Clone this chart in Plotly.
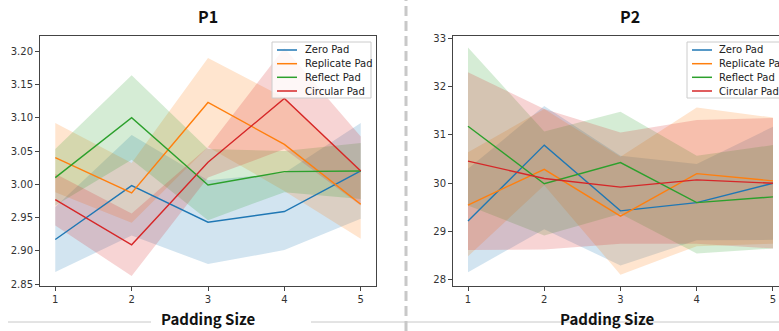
import plotly.graph_objects as go

x_vals = [1, 2, 3, 4, 5]
series_names = ["Zero Pad", "Replicate Pad", "Reflect Pad", "Circular Pad"]
colors = ["#1f77b4", "#ff7f0e", "#2ca02c", "#d62728"]
fills = ["rgba(31,119,180,0.2)", "rgba(255,127,14,0.2)", "rgba(44,160,44,0.2)", "rgba(214,39,40,0.2)"]

# P1
p1_mean = [
    [2.917, 2.998, 2.943, 2.959, 3.020],
    [3.040, 2.987, 3.123, 3.060, 2.970],
    [3.010, 3.100, 2.999, 3.019, 3.020],
    [2.977, 2.909, 3.033, 3.129, 3.020],
]
p1_upper = [
    [2.966, 3.074, 3.006, 3.017, 3.092],
    [3.092, 3.032, 3.190, 3.130, 3.022],
    [3.053, 3.164, 3.053, 3.050, 3.062],
    [3.016, 2.956, 3.056, 3.205, 3.072],
]
p1_lower = [
    [2.868, 2.923, 2.880, 2.901, 2.948],
    [2.988, 2.942, 3.056, 2.990, 2.918],
    [2.968, 3.037, 2.946, 2.988, 2.978],
    [2.938, 2.862, 3.010, 3.053, 2.968],
]

# P2
p2_mean = [
    [29.22, 30.79, 29.43, 29.60, 30.00],
    [29.55, 30.29, 29.32, 30.20, 30.05],
    [31.18, 29.99, 30.43, 29.60, 29.72],
    [30.46, 30.10, 29.92, 30.07, 30.00],
]
p2_upper = [
    [30.30, 31.60, 30.57, 30.40, 31.17],
    [30.64, 31.54, 30.55, 31.57, 31.36],
    [32.81, 31.07, 31.48, 30.57, 30.79],
    [32.30, 31.54, 31.05, 31.31, 31.35],
]
p2_lower = [
    [28.16, 29.05, 28.30, 28.82, 28.83],
    [28.49, 29.96, 28.11, 28.70, 28.75],
    [29.54, 28.92, 29.37, 28.55, 28.65],
    [28.62, 28.63, 28.75, 28.75, 28.65],
]

p1_ticks = [2.85, 2.90, 2.95, 3.00, 3.05, 3.10, 3.15, 3.20]
p2_ticks = [28, 29, 30, 31, 32, 33]

W, H = 779, 331
def px(x):
    return x / W
def py(y):
    return 1 - y / H

fig = go.Figure()

def add_panel(means, uppers, lowers, xa, ya):
    for i in range(4):
        fig.add_trace(go.Scatter(x=x_vals, y=uppers[i], mode="lines",
                                 line=dict(width=0, color=colors[i]),
                                 xaxis=xa, yaxis=ya, showlegend=False, hoverinfo="skip"))
        fig.add_trace(go.Scatter(x=x_vals, y=lowers[i], mode="lines",
                                 line=dict(width=0, color=colors[i]),
                                 fill="tonexty", fillcolor=fills[i],
                                 xaxis=xa, yaxis=ya, showlegend=False, hoverinfo="skip"))
    for i in range(4):
        fig.add_trace(go.Scatter(x=x_vals, y=means[i], mode="lines", name=series_names[i],
                                 line=dict(color=colors[i], width=1.4),
                                 xaxis=xa, yaxis=ya, showlegend=False, hoverinfo="skip"))

add_panel(p1_mean, p1_upper, p1_lower, "x", "y")
add_panel(p2_mean, p2_upper, p2_lower, "x2", "y2")

ydom = [py(286), py(36)]
axis_common = dict(showgrid=False, zeroline=False, showline=True, linecolor="#444",
                   linewidth=1, ticks="outside", ticklen=4, tickcolor="#444", automargin=False,
                   tickfont=dict(family="DejaVu Sans", size=10, color="#333"))

fig.update_layout(
    width=W, height=H, margin=dict(l=0, r=0, t=0, b=0, pad=0, autoexpand=False),
    paper_bgcolor="white", plot_bgcolor="white", showlegend=False,
    xaxis=dict(domain=[px(40), px(376)], range=[0.8, 5.2], tickvals=x_vals,
               ticktext=[str(v) for v in x_vals], mirror=True, anchor="y", **axis_common),
    yaxis=dict(domain=ydom, range=[2.847, 3.223], tickvals=p1_ticks,
               ticktext=[f"{v:.2f}" for v in p1_ticks], mirror=True, anchor="x", **axis_common),
    xaxis2=dict(domain=[px(453), 1.0], range=[0.8033, 5.079], tickvals=x_vals,
                ticktext=[str(v) for v in x_vals], mirror=True, anchor="y2", **axis_common),
    yaxis2=dict(domain=ydom, range=[27.875, 33.048], tickvals=p2_ticks,
                ticktext=[str(v) for v in p2_ticks], mirror=False, anchor="x2", **axis_common),
)

shapes = []
annotations = []

# titles and x labels
title_font = dict(family="Noto Sans CJK SC", size=16, color="#111", weight=600)
label_font = dict(family="Noto Sans CJK SC", size=15, color="#111", weight=600)
annotations.append(dict(text="P1", x=px(208), y=py(16), xref="paper", yref="paper",
                        showarrow=False, font=title_font, xanchor="center", yanchor="middle"))
annotations.append(dict(text="P2", x=px(630), y=py(16), xref="paper", yref="paper",
                        showarrow=False, font=title_font, xanchor="center", yanchor="middle"))
annotations.append(dict(text="Padding Size", x=px(208), y=py(318), xref="paper", yref="paper",
                        showarrow=False, font=label_font, xanchor="center", yanchor="middle"))
annotations.append(dict(text="Padding Size", x=px(607), y=py(318), xref="paper", yref="paper",
                        showarrow=False, font=label_font, xanchor="center", yanchor="middle"))

# decorative separators
for x0, x1 in [(8, 151), (311, 779)]:
    shapes.append(dict(type="line", xref="paper", yref="paper", x0=px(x0), x1=px(x1),
                       y0=py(322), y1=py(322), line=dict(color="#c8c8c8", width=1), layer="below"))
shapes.append(dict(type="line", xref="paper", yref="paper", x0=px(406), x1=px(406),
                   y0=0, y1=1, line=dict(color="#c8c8c8", width=3, dash="10px,5px")))

# legends
def add_legend(bx0, bx1, by0, by1, lx0, lx1, tx):
    shapes.append(dict(type="rect", xref="paper", yref="paper", x0=px(bx0), x1=px(bx1),
                       y0=py(by1), y1=py(by0), line=dict(color="#cccccc", width=1),
                       fillcolor="rgba(255,255,255,0.8)", layer="above"))
    rows = [50, 63.7, 77.3, 91]
    for i, name in enumerate(series_names):
        shapes.append(dict(type="line", xref="paper", yref="paper", x0=px(lx0), x1=px(lx1),
                           y0=py(rows[i]), y1=py(rows[i]),
                           line=dict(color=colors[i], width=1.5), layer="above"))
        annotations.append(dict(text=name, x=px(tx), y=py(rows[i]), xref="paper", yref="paper",
                                showarrow=False, xanchor="left", yanchor="middle",
                                font=dict(family="DejaVu Sans", size=10, color="#222")))

add_legend(272, 371, 42, 98, 277, 297, 303)
add_legend(687, 786, 42, 98, 692, 712, 717)

fig.update_layout(shapes=shapes, annotations=annotations)
fig.write_html("out.html", config={"displayModeBar": False},
               post_script="document.body.style.margin='0';document.body.style.overflow='hidden';")
